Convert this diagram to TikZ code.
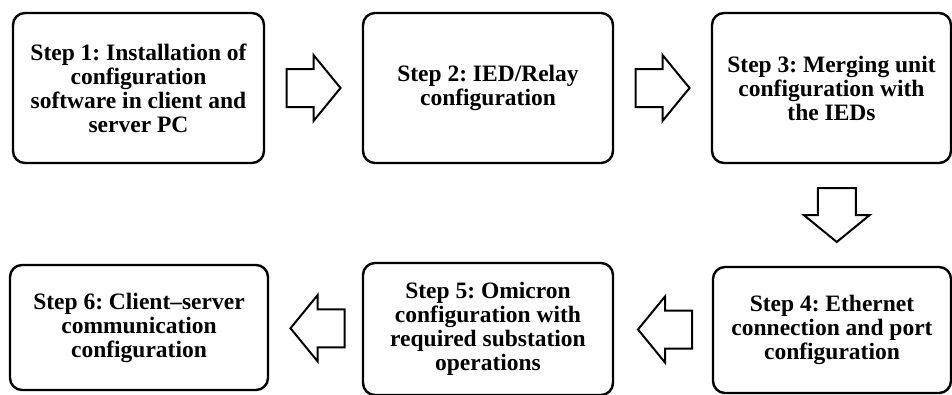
\documentclass[tikz,border=0pt]{standalone}
\usepackage{fontspec}
\setmainfont{Liberation Serif}
\usetikzlibrary{calc}
\frenchspacing
\tikzset{
  stepbox/.style={draw, line width=2.4pt, rounded corners=12pt, align=center,
    font=\fontsize{23.5}{24}\selectfont\bfseries\frenchspacing, inner sep=0pt},
  arrowline/.style={draw, line width=2pt, fill=white, line join=miter},
  blockarrow/.pic={\path[arrowline] (-27,-19) -- (0,-19) -- (0,-33) -- (27,0) -- (0,33) -- (0,19) -- (-27,19) -- cycle;}
}
\begin{document}
\begin{tikzpicture}[x=1pt,y=-1pt]
\useasboundingbox (0,0) rectangle (952,394);
\node[stepbox, minimum width=251pt, minimum height=150pt] (b1) at (138.5,88) {Step 1: Installation of\\configuration\\software in client and\\server PC};
\node[stepbox, minimum width=250pt, minimum height=150pt] (b2) at (488,88) {Step 2: IED/Relay\\configuration};
\node[stepbox, minimum width=239pt, minimum height=150pt] (b3) at (831.5,88) {Step 3: Merging unit\\configuration with\\the IEDs};
\node[stepbox, minimum width=238pt, minimum height=126pt] (b4) at (832,330) {Step 4: Ethernet\\connection and port\\configuration};
\node[stepbox, minimum width=250pt, minimum height=132pt] (b5) at (488,329) {Step 5: Omicron\\configuration with\\required substation\\operations};
\node[stepbox, minimum width=258pt, minimum height=125pt] (b6) at (139,327.5) {Step 6: Client–server\\communication\\configuration};
\coordinate (a12) at ($(b1.east)!0.5!(b2.west)$);
\coordinate (a23) at ($(b2.east)!0.5!(b3.west)$);
\coordinate (a34) at ($(b3.south)!0.5!(b4.north)+(5,0)$);
\coordinate (a45) at ($(b5.east)!0.5!(b4.west)+(2,0)$);
\coordinate (a56) at ($(b6.east)!0.5!(b5.west)+(2,0)$);
\pic at (a12) {blockarrow};
\pic at (a23) {blockarrow};
\pic[rotate=-90] at (a34) {blockarrow};
\pic[rotate=180] at (a45) {blockarrow};
\pic[rotate=180] at (a56) {blockarrow};
\end{tikzpicture}
\end{document}
